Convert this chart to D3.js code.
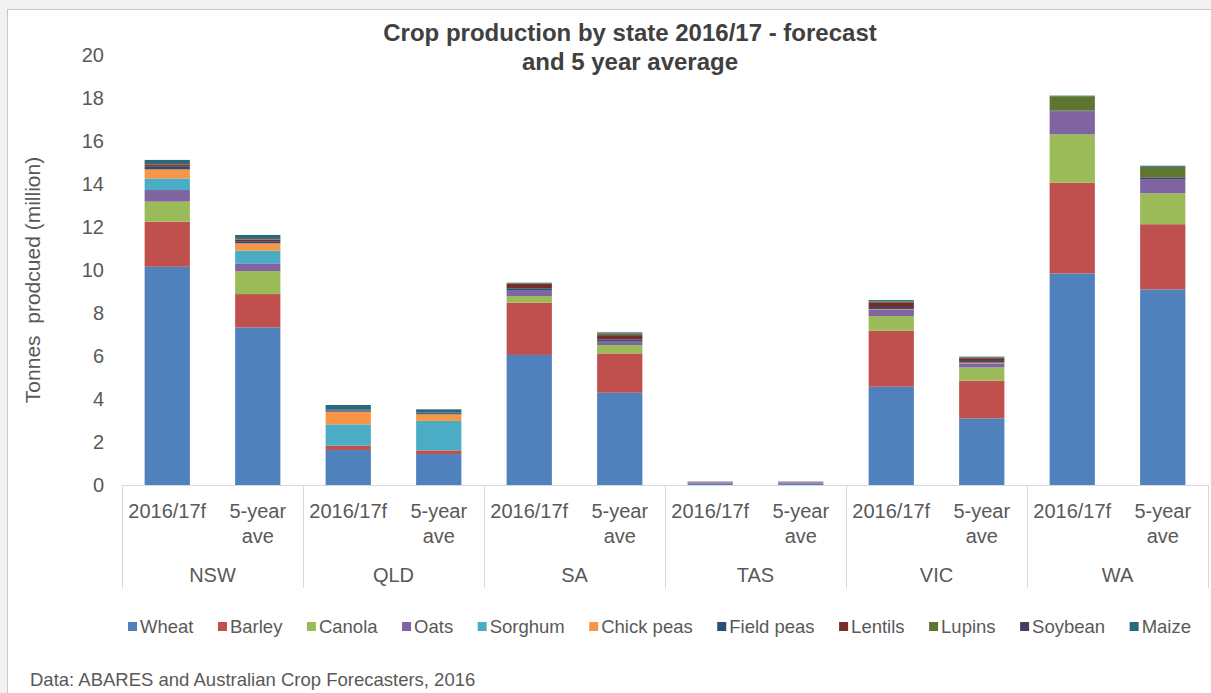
<!DOCTYPE html>
<html>
<head>
<meta charset="utf-8">
<script src="https://cdn.jsdelivr.net/npm/d3@7"></script>
<style>
  body { margin: 0; background: #f2f2f2; }
  svg { display: block; font-family: "Liberation Sans", Arial, sans-serif; }
</style>
</head>
<body>
<svg id="chart"></svg>
<script>
var width = 1211, height = 693;

// data (million tonnes)
var states = ["NSW", "QLD", "SA", "TAS", "VIC", "WA"];
var periods = ["2016/17f", "5-year ave"];
var crops = ["Wheat", "Barley", "Canola", "Oats", "Sorghum", "Chick peas", "Field peas", "Lentils", "Lupins", "Soybean", "Maize"];
var cropColors = ["#4f81bd", "#c0504d", "#9bbb59", "#8064a2", "#4bacc6", "#f79646", "#2c4d75", "#772c2a", "#5f7530", "#4d3b62", "#276a7c"];

// one row per bar, values in crop order
var nsw16 = [10.15, 2.10, 0.93, 0.54, 0.54, 0.42, 0.12, 0.08, 0.04, 0.05, 0.15];
var nsw5y = [7.33, 1.55, 1.07, 0.36, 0.59, 0.34, 0.10, 0.07, 0.04, 0.04, 0.14];
var qld16 = [1.63, 0.20, 0.00, 0.00, 0.99, 0.59, 0.05, 0.01, 0.00, 0.03, 0.22];
var qld5y = [1.44, 0.17, 0.00, 0.00, 1.37, 0.31, 0.05, 0.00, 0.00, 0.03, 0.15];
var sa16 = [6.05, 2.43, 0.31, 0.25, 0.00, 0.00, 0.11, 0.20, 0.03, 0.00, 0.03];
var sa5y = [4.29, 1.83, 0.39, 0.16, 0.00, 0.00, 0.10, 0.20, 0.08, 0.00, 0.05];
var tas16 = [0.08, 0.02, 0.01, 0.05, 0.00, 0.00, 0.00, 0.00, 0.00, 0.00, 0.00];
var tas5y = [0.08, 0.02, 0.01, 0.05, 0.00, 0.00, 0.00, 0.00, 0.00, 0.00, 0.00];
var vic16 = [4.57, 2.61, 0.68, 0.28, 0.00, 0.04, 0.10, 0.22, 0.04, 0.00, 0.06];
var vic5y = [3.10, 1.75, 0.62, 0.19, 0.00, 0.03, 0.08, 0.13, 0.04, 0.00, 0.03];
var wa16 = [9.84, 4.22, 2.25, 1.06, 0.00, 0.00, 0.03, 0.02, 0.66, 0.00, 0.03];
var wa5y = [9.10, 3.03, 1.44, 0.66, 0.00, 0.00, 0.07, 0.02, 0.48, 0.00, 0.05];

var barValues = [nsw16, nsw5y, qld16, qld5y, sa16, sa5y, tas16, tas5y, vic16, vic5y, wa16, wa5y];
var yTicks = [0, 2, 4, 6, 8, 10, 12, 14, 16, 18, 20];

var rows = barValues.map(function (vals, i) {
  var r = {state: states[Math.floor(i / 2)], period: periods[i % 2]};
  r.key = r.state + "|" + r.period;
  crops.forEach(function (c, j) { r[c] = vals[j]; });
  return r;
});

var svg = d3.select("#chart")
  .attr("width", width)
  .attr("height", height);

// white panel with light border
svg.append("rect")
  .attr("x", 7.5).attr("y", 9.5)
  .attr("width", width + 10).attr("height", height + 10)
  .attr("fill", "#fff")
  .attr("stroke", "#c8c8c8");

var plotLeft = 122, plotRight = 1208, plotTop = 55, plotBottom = 485;

var x = d3.scaleBand()
  .domain(rows.map(function (d) { return d.key; }))
  .range([plotLeft, plotRight])
  .paddingInner(0.5)
  .paddingOuter(0.25);

var groupX = d3.scaleBand()
  .domain(states)
  .range([plotLeft, plotRight]);

var y = d3.scaleLinear()
  .domain([0, 20])
  .range([plotBottom, plotTop]);

var color = d3.scaleOrdinal().domain(crops).range(cropColors);

var stacked = d3.stack().keys(crops)(rows);

svg.append("g")
  .selectAll("g")
  .data(stacked)
  .enter().append("g")
  .attr("fill", function (d) { return color(d.key); })
  .selectAll("rect")
  .data(function (d) { return d; })
  .enter().append("rect")
  .attr("x", function (d) { return x(d.data.key); })
  .attr("width", x.bandwidth())
  .attr("y", function (d) { return y(d[1]); })
  .attr("height", function (d) { return y(d[0]) - y(d[1]); });

// y axis labels
svg.append("g")
  .selectAll("text")
  .data(yTicks)
  .enter().append("text")
  .attr("x", 104)
  .attr("y", function (d) { return y(d); })
  .attr("dy", "0.35em")
  .attr("text-anchor", "end")
  .attr("font-size", 20)
  .attr("fill", "#595959")
  .text(function (d) { return d; });

svg.append("text")
  .attr("transform", "translate(40,280) rotate(-90)")
  .attr("text-anchor", "middle")
  .attr("font-size", 21)
  .attr("fill", "#595959")
  .attr("xml:space", "preserve")
  .text("Tonnes  prodcued (million)");

// category axis: baseline and group dividers
var axisColor = "#d9d9d9";
svg.append("line")
  .attr("x1", plotLeft).attr("x2", plotRight)
  .attr("y1", plotBottom + 0.5).attr("y2", plotBottom + 0.5)
  .attr("stroke", axisColor);

var dividers = states.map(function (s) { return groupX(s); }).concat([plotRight]);
svg.append("g")
  .selectAll("line")
  .data(dividers)
  .enter().append("line")
  .attr("x1", function (d) { return Math.round(d) + 0.5; })
  .attr("x2", function (d) { return Math.round(d) + 0.5; })
  .attr("y1", plotBottom)
  .attr("y2", 588)
  .attr("stroke", axisColor);

// period labels
var periodLabels = svg.append("g")
  .selectAll("text")
  .data(rows)
  .enter().append("text")
  .attr("text-anchor", "middle")
  .attr("font-size", 20)
  .attr("fill", "#595959");

periodLabels.each(function (d) {
  var cx = x(d.key) + x.bandwidth() / 2;
  var words = d.period === "5-year ave" ? ["5-year", "ave"] : [d.period];
  var t = d3.select(this);
  words.forEach(function (w, i) {
    t.append("tspan")
      .attr("x", cx)
      .attr("y", 518 + i * 25)
      .text(w);
  });
});

// state labels
svg.append("g")
  .selectAll("text")
  .data(states)
  .enter().append("text")
  .attr("x", function (d) { return groupX(d) + groupX.bandwidth() / 2; })
  .attr("y", 582)
  .attr("text-anchor", "middle")
  .attr("font-size", 20)
  .attr("fill", "#595959")
  .text(function (d) { return d; });

// title
var title = svg.append("text")
  .attr("text-anchor", "middle")
  .attr("font-size", 24)
  .attr("font-weight", "bold")
  .attr("fill", "#404040");
title.append("tspan").attr("x", 630).attr("y", 41).text("Crop production by state 2016/17 - forecast");
title.append("tspan").attr("x", 630).attr("y", 70).text("and 5 year average");

// legend
var legend = svg.append("g").attr("transform", "translate(0,627)");
var legendItems = legend.selectAll("g")
  .data(crops)
  .enter().append("g");
legendItems.append("rect")
  .attr("y", -5)
  .attr("width", 9)
  .attr("height", 9)
  .attr("fill", function (d) { return color(d); });
legendItems.append("text")
  .attr("x", 12)
  .attr("dy", "0.35em")
  .attr("font-size", 18.5)
  .attr("fill", "#595959")
  .text(function (d) { return d; });

var lx = 128;
legendItems.each(function () {
  var g = d3.select(this);
  g.attr("transform", "translate(" + lx + ",0)");
  lx += 12 + g.select("text").node().getComputedTextLength() + 24.5;
});

svg.append("text")
  .attr("x", 30)
  .attr("y", 686)
  .attr("font-size", 18.5)
  .attr("fill", "#595959")
  .text("Data: ABARES and Australian Crop Forecasters, 2016");
</script>
</body>
</html>
